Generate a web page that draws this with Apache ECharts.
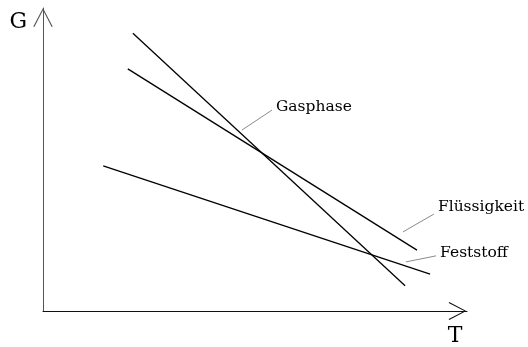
<!DOCTYPE html>
<html>
<head>
<meta charset="utf-8">
<script src="https://cdn.jsdelivr.net/npm/echarts@6/dist/echarts.min.js"></script>
<style>
  html, body { margin: 0; padding: 0; background: #fff; }
  #main { width: 528px; height: 347px; }
</style>
</head>
<body>
<div id="main"></div>
<script>
// Lines in arbitrary units (T on x, G on y)
var gasphase = [[21.2, 91.7], [85.4, 8.3]];
var fluessigkeit = [[20.0, 79.9], [88.2, 20.1]];
var feststoff = [[14.2, 47.9], [91.3, 12.2]];

// label leader lines (start on the curve, end at the text)
var gasLeader = [[46.9, 59.7], [54.0, 66.3]];
var fluLeader = [[84.9, 26.1], [92.2, 32.0]];
var festLeader = [[85.6, 16.2], [92.7, 18.2]];

var labels = ['Gasphase', 'Flüssigkeit', 'Feststoff'];

var dom = document.getElementById('main');
var myChart = echarts.init(dom);

// open LaTeX-like arrow head
var arrowHead = 'path://M0 19 L10 0 L20 19 L18.9 19.6 L10 2.3 L1.1 19.6 Z';
var serif = "'DejaVu Serif', 'Liberation Serif', serif";

function curve(data) {
  return {
    type: 'line',
    data: data,
    symbol: 'none',
    silent: true,
    lineStyle: { color: '#000', width: 1.3 }
  };
}

function leader(data, text, offset) {
  return {
    type: 'line',
    data: data,
    symbol: 'none',
    silent: true,
    lineStyle: { color: '#8a8a8a', width: 1 },
    endLabel: {
      show: true,
      formatter: text,
      distance: 4,
      offset: offset,
      color: '#000',
      fontFamily: serif,
      fontSize: 15.5
    }
  };
}

var option = {
  animation: false,
  backgroundColor: '#fff',
  grid: { left: 43, right: 61, top: 8, bottom: 36 },
  xAxis: {
    type: 'value',
    min: 0,
    max: 100,
    name: 'T',
    nameLocation: 'end',
    nameGap: -12,
    nameTextStyle: {
      fontFamily: serif,
      fontSize: 22,
      color: '#000',
      align: 'center',
      verticalAlign: 'top',
      padding: [14, 0, 0, 0]
    },
    axisLine: {
      show: true,
      symbol: ['none', arrowHead],
      symbolSize: [18, 19],
      symbolOffset: [0, -9.5],
      lineStyle: { color: '#111', width: 1 }
    },
    axisTick: { show: false },
    axisLabel: { show: false },
    splitLine: { show: false }
  },
  yAxis: {
    type: 'value',
    min: 0,
    max: 100,
    name: 'G',
    nameLocation: 'end',
    nameGap: -14,
    nameTextStyle: {
      fontFamily: serif,
      fontSize: 22,
      color: '#000',
      align: 'right',
      verticalAlign: 'middle',
      padding: [0, 16, 0, 0]
    },
    axisLine: {
      show: true,
      symbol: ['none', arrowHead],
      symbolSize: [20, 19],
      symbolOffset: [0, -9.5],
      lineStyle: { color: '#555', width: 1 }
    },
    axisTick: { show: false },
    axisLabel: { show: false },
    splitLine: { show: false }
  },
  series: [
    curve(gasphase),
    curve(fluessigkeit),
    curve(feststoff),
    leader(gasLeader, labels[0], [0, -3]),
    leader(fluLeader, labels[1], [0, -7]),
    leader(festLeader, labels[2], [0, -3])
  ]
};

myChart.setOption(option);
</script>
</body>
</html>
